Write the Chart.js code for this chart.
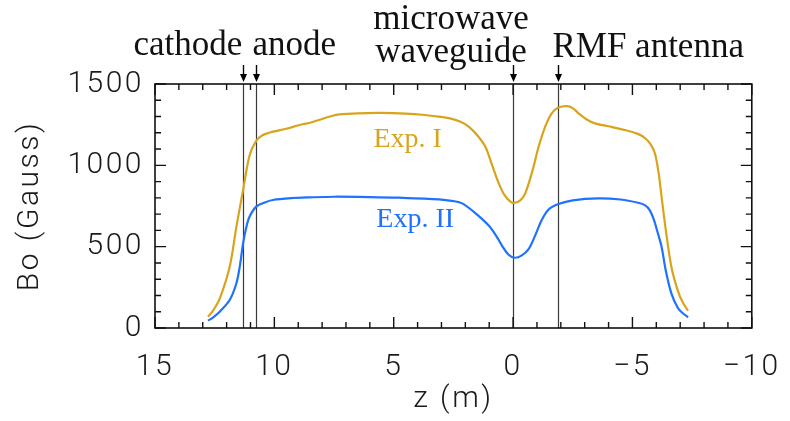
<!DOCTYPE html>
<html>
<head>
<meta charset="utf-8">
<script src="https://cdn.jsdelivr.net/npm/chart.js@4"></script>
<style>
  html, body { margin: 0; padding: 0; background: #fff; }
  canvas { display: block; }
</style>
</head>
<body>
<canvas id="c" width="790" height="421"></canvas>
<script>
// Axial field profile along the device, z in metres, Bo in Gauss
const zExpI = [12.78, 12.56, 12.29, 11.87, 11.59, 11.31, 11.04, 10.76, 10.48, 10.06,
  9.5, 8.95, 8.5, 8.11, 7.6, 7.28, 6.5, 5.5, 4.5, 3.8, 3.11, 2.69, 2.2, 1.85, 1.5,
  1.16, 0.9, 0.6, 0.35, 0.1, -0.07, -0.3, -0.51, -0.8, -1.07, -1.35, -1.62, -1.9, -2.25,
  -2.5, -2.74, -3.1, -3.43, -4.0, -4.69, -5.2, -5.52, -5.75, -5.94, -6.1, -6.22,
  -6.4, -6.63, -6.9, -7.1, -7.33];
const bExpI = [69, 108, 180, 377, 623, 848, 1060, 1150, 1186, 1207,
  1225, 1248, 1262, 1280, 1303, 1313, 1320, 1322, 1318, 1311, 1299, 1290, 1268, 1237, 1185,
  1114, 1010, 889, 815, 776, 770, 785, 828, 960, 1114, 1240, 1320, 1355, 1364,
  1352, 1320, 1280, 1258, 1240, 1217, 1195, 1168, 1132, 1074, 950, 807,
  600, 377, 230, 160, 106];

const zExpII = [12.78, 12.56, 12.29, 11.87, 11.59, 11.45, 11.31, 11.17, 11.04, 10.76,
  10.4, 10.06, 9.3, 8.5, 7.5, 6.0, 4.78, 3.11, 2.5, 2.13, 1.57, 1.02, 0.7, 0.46,
  0.2, -0.07, -0.35, -0.65, -0.9, -1.2, -1.5, -1.9, -2.5, -3.57, -4.5, -5.24,
  -5.52, -5.72, -5.9, -6.05, -6.22, -6.4, -6.63, -6.91, -7.1, -7.33];
const bExpII = [45, 66, 100, 172, 275, 377, 520, 623, 684, 746,
  772, 787, 798, 803, 807, 805, 801, 791, 780, 766, 705, 630, 565, 505,
  452, 432, 445, 485, 560, 664, 730, 762, 785, 797, 790, 770,
  755, 725, 665, 590, 500, 350, 213, 121, 92, 66];

const seriesNames = ['Exp. I', 'Exp. II'];

// Component locations along z (m)
const markerZ = [11.3, 10.75, 0, -1.9];
const markerNames = ['cathode', 'anode', 'microwave waveguide', 'RMF antenna'];

// Axis ranges and tick steps
const zRange = [-10, 15];
const bRange = [0, 1500];
const zMinorStep = 1, zMajorStep = 5;
const bMinorStep = 100, bMajorStep = 500;

const GOLD = '#D8A41C';
const BLUE = '#1E72FF';
const sansFont = { family: 'Roboto', weight: 300, size: 30 };
const serif = '"Liberation Serif", "Times New Roman", serif';

const toPoints = (zs, bs) => zs.map((z, i) => ({ x: z, y: bs[i] }));
const fmtMinus = v => (v < 0 ? '\u2212' + Math.abs(v) : String(v));

// Boxed frame with inward ticks and the component marker lines
const framePlugin = {
  id: 'frame',
  beforeDraw(chart) {
    chart.ctx.letterSpacing = '2.5px';
  },
  beforeDatasetsDraw(chart) {
    const ctx = chart.ctx;
    ctx.letterSpacing = '0px';
    const { left, right, top, bottom } = chart.chartArea;
    const { x, y } = chart.scales;
    ctx.save();
    ctx.lineCap = 'butt';
    ctx.strokeStyle = '#3a3a3a';
    ctx.lineWidth = 1.2;
    markerZ.forEach(z => {
      const px = Math.round(x.getPixelForValue(z)) + 0.5;
      ctx.beginPath();
      ctx.moveTo(px, top);
      ctx.lineTo(px, bottom);
      ctx.stroke();
    });
    ctx.strokeStyle = '#111';
    ctx.lineWidth = 1.4;
    x.ticks.forEach(t => {
      const px = x.getPixelForValue(t.value);
      const len = t.value % zMajorStep === 0 ? 11 : 6;
      ctx.beginPath();
      ctx.moveTo(px, bottom); ctx.lineTo(px, bottom - len);
      ctx.moveTo(px, top); ctx.lineTo(px, top + len);
      ctx.stroke();
    });
    y.ticks.forEach(t => {
      const py = y.getPixelForValue(t.value);
      const len = t.value % bMajorStep === 0 ? 11 : 6;
      ctx.beginPath();
      ctx.moveTo(left, py); ctx.lineTo(left + len, py);
      ctx.moveTo(right, py); ctx.lineTo(right - len, py);
      ctx.stroke();
    });
    ctx.lineWidth = 1.6;
    ctx.strokeRect(left, top, right - left, bottom - top);
    ctx.restore();
  },
  afterDraw(chart) {
    const ctx = chart.ctx;
    const { top } = chart.chartArea;
    const { x, y } = chart.scales;
    ctx.save();
    ctx.letterSpacing = '0px';

    // arrows pointing at each component
    ctx.strokeStyle = '#000';
    ctx.fillStyle = '#000';
    ctx.lineWidth = 1.4;
    markerZ.forEach(z => {
      const px = Math.round(x.getPixelForValue(z)) + 0.5;
      const tip = top - 2, tail = top - 19;
      ctx.beginPath();
      ctx.moveTo(px, tail); ctx.lineTo(px, tip - 5);
      ctx.stroke();
      ctx.beginPath();
      ctx.moveTo(px - 3.5, tip - 8);
      ctx.lineTo(px + 3.5, tip - 8);
      ctx.lineTo(px, tip);
      ctx.closePath();
      ctx.fill();
    });

    // component names
    ctx.font = '35px ' + serif;
    ctx.fillStyle = '#111';
    ctx.textBaseline = 'alphabetic';
    const pCath = x.getPixelForValue(markerZ[0]);
    const pAnode = x.getPixelForValue(markerZ[1]);
    const pWave = x.getPixelForValue(markerZ[2]);
    const pRmf = x.getPixelForValue(markerZ[3]);
    ctx.textAlign = 'right';
    ctx.fillText(markerNames[0], pCath - 1, top - 29);
    ctx.textAlign = 'left';
    ctx.fillText(markerNames[1], pAnode - 4, top - 29);
    const waveWords = markerNames[2].split(' ');
    ctx.textAlign = 'center';
    ctx.fillText(waveWords[0], pWave - 62, top - 55);
    ctx.fillText(waveWords[1], pWave - 62, top - 22);
    ctx.textAlign = 'left';
    ctx.fillText(markerNames[3], pRmf - 6, top - 27);

    // series labels
    ctx.font = '28px ' + serif;
    ctx.fillStyle = GOLD;
    ctx.fillText(seriesNames[0], x.getPixelForValue(5.85), y.getPixelForValue(1113));
    ctx.fillStyle = BLUE;
    ctx.fillText(seriesNames[1], x.getPixelForValue(5.73), y.getPixelForValue(621));
    ctx.restore();
  }
};

new Chart(document.getElementById('c'), {
  type: 'line',
  data: {
    datasets: [
      { label: seriesNames[0], data: toPoints(zExpI, bExpI), borderColor: GOLD,
        borderWidth: 2.2, pointRadius: 0, tension: 0.3, fill: false },
      { label: seriesNames[1], data: toPoints(zExpII, bExpII), borderColor: BLUE,
        borderWidth: 2.2, pointRadius: 0, tension: 0.3, fill: false }
    ]
  },
  options: {
    responsive: false,
    animation: false,
    events: [],
    layout: { padding: { top: 84, right: 36, left: 0, bottom: 0 } },
    plugins: { legend: { display: false }, tooltip: { enabled: false } },
    scales: {
      x: {
        type: 'linear',
        reverse: true,
        min: zRange[0], max: zRange[1],
        grid: { display: false },
        border: { display: false },
        ticks: {
          stepSize: zMinorStep, autoSkip: false, maxRotation: 0,
          color: '#1a1a1a', font: sansFont, padding: 13,
          callback: v => (v % zMajorStep === 0 ? fmtMinus(v) : '')
        },
        title: { display: true, text: 'z (m)', color: '#1a1a1a', font: sansFont,
                 padding: { top: 0, bottom: 4 } },
        afterFit(scale) { scale.height = 93; }
      },
      y: {
        min: bRange[0], max: bRange[1],
        grid: { display: false },
        border: { display: false },
        ticks: {
          stepSize: bMinorStep, autoSkip: false,
          color: '#1a1a1a', font: sansFont, padding: 3,
          callback: v => (v % bMajorStep === 0 ? String(v) : '')
        },
        title: { display: true, text: 'Bo (Gauss)', color: '#1a1a1a', font: sansFont,
                 padding: { top: 12, bottom: 0 } },
        afterFit(scale) { scale.width = 155; }
      }
    }
  },
  plugins: [framePlugin]
});
</script>
</body>
</html>
